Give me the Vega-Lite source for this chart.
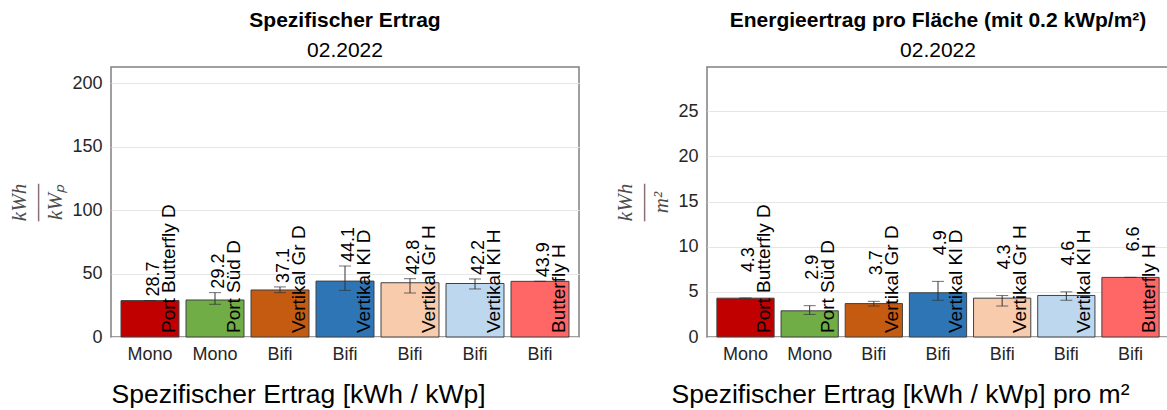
{
  "$schema": "https://vega.github.io/schema/vega-lite/v6.json",
  "background": "white",
  "padding": {"left": 8, "top": 9, "right": 0, "bottom": 0},
  "spacing": 34,
  "datasets": {
    "left": [
      {"key": "Mono|Port Butterfly D", "name": "Port Butterfly D", "value": 28.7, "lo": 28.7, "hi": 28.7},
      {"key": "Mono|Port Süd D", "name": "Port Süd D", "value": 29.2, "lo": 25.8, "hi": 35.0},
      {"key": "Bifi|Vertikal Gr D", "name": "Vertikal Gr D", "value": 37.1, "lo": 35.0, "hi": 39.5},
      {"key": "Bifi|Vertikal Kl D", "name": "Vertikal Kl D", "value": 44.1, "lo": 36.8, "hi": 56.0},
      {"key": "Bifi|Vertikal Gr H", "name": "Vertikal Gr H", "value": 42.8, "lo": 34.7, "hi": 46.0},
      {"key": "Bifi|Vertikal Kl H", "name": "Vertikal Kl H", "value": 42.2, "lo": 37.9, "hi": 45.8},
      {"key": "Bifi|Butterfly H", "name": "Butterfly H", "value": 43.9, "lo": 43.9, "hi": 43.9}
    ],
    "right": [
      {"key": "Mono|Port Butterfly D", "name": "Port Butterfly D", "value": 4.3, "lo": 4.3, "hi": 4.3},
      {"key": "Mono|Port Süd D", "name": "Port Süd D", "value": 2.9, "lo": 2.5, "hi": 3.47},
      {"key": "Bifi|Vertikal Gr D", "name": "Vertikal Gr D", "value": 3.7, "lo": 3.43, "hi": 3.95},
      {"key": "Bifi|Vertikal Kl D", "name": "Vertikal Kl D", "value": 4.9, "lo": 4.07, "hi": 6.16},
      {"key": "Bifi|Vertikal Gr H", "name": "Vertikal Gr H", "value": 4.3, "lo": 3.43, "hi": 4.59},
      {"key": "Bifi|Vertikal Kl H", "name": "Vertikal Kl H", "value": 4.6, "lo": 4.07, "hi": 5.0},
      {"key": "Bifi|Butterfly H", "name": "Butterfly H", "value": 6.6, "lo": 6.6, "hi": 6.6}
    ]
  },
  "config": {
    "font": "Liberation Sans",
    "view": {"stroke": "#808080", "strokeWidth": 1.5},
    "axis": {"domain": false, "ticks": false, "labelFont": "Liberation Sans", "labelFontSize": 18, "labelColor": "#262626"},
    "axisY": {"grid": true, "gridColor": "#e6e6e6", "gridWidth": 1.2, "labelPadding": 9, "titleFont": "Liberation Serif", "titleFontStyle": "italic", "titleFontWeight": "normal", "titleFontSize": 21, "titleLineHeight": 18, "titleColor": "#4d4d4d", "titlePadding": 6},
    "axisX": {"grid": false, "labelAngle": 0, "labelPadding": 8, "titleFont": "Liberation Sans", "titleFontSize": 26.5, "titleFontWeight": "normal", "titlePadding": 18, "titleColor": "#000", "titleAlign": "center"},
    "title": {"font": "Liberation Sans", "fontSize": 21, "fontWeight": "bold", "color": "#000", "subtitleFont": "Liberation Sans", "subtitleFontSize": 21, "subtitleColor": "#000", "anchor": "middle", "frame": "group", "offset": 6, "subtitlePadding": 9},
    "text": {"font": "Liberation Sans", "fontSize": 18, "color": "#000"}
  },
  "hconcat": [
    {
      "width": 468,
      "height": 270,
      "data": {"name": "left"},
      "title": {"text": "Spezifischer Ertrag", "subtitle": "02.2022"},
      "encoding": {
        "x": {"field": "key", "type": "nominal", "sort": null, "scale": {"paddingInner": 0.108, "paddingOuter": 0.154},
          "axis": {"labelExpr": "split(datum.value, '|')[0]", "title": "Spezifischer Ertrag [kWh / kWp]", "titleX": 187}}
      },
      "layer": [
        {
          "mark": {"type": "bar", "stroke": "#404040", "strokeWidth": 1},
          "encoding": {
            "y": {"field": "value", "type": "quantitative", "scale": {"domain": [0, 213], "nice": false},
              "axis": {"values": [0, 50, 100, 150, 200], "title": ["kWh", "——", "kWₚ"]}},
            "color": {"field": "name", "type": "nominal", "legend": null,
              "scale": {"domain": ["Port Butterfly D", "Port Süd D", "Vertikal Gr D", "Vertikal Kl D", "Vertikal Gr H", "Vertikal Kl H", "Butterfly H"],
                "range": ["#c00000", "#70ad47", "#c55a11", "#2e75b6", "#f8cbad", "#bdd7ee", "#ff6666"]}}
          }
        },
        {
          "mark": {"type": "errorbar", "color": "#333333", "ticks": {"size": 12, "color": "#333333"}},
          "encoding": {"y": {"field": "lo", "type": "quantitative", "axis": {"values": [0, 50, 100, 150, 200], "title": ["kWh", "——", "kWₚ"]}}, "y2": {"field": "hi"}}
        },
        {
          "mark": {"type": "text", "angle": -90, "align": "left", "baseline": "middle", "dx": 4, "dy": 4},
          "encoding": {"y": {"field": "hi", "type": "quantitative", "axis": {"values": [0, 50, 100, 150, 200], "title": ["kWh", "——", "kWₚ"]}}, "text": {"field": "value", "format": ".1f"}}
        },
        {
          "mark": {"type": "text", "angle": -90, "align": "left", "baseline": "middle", "dx": 4, "dy": 19, "fontSize": 19},
          "encoding": {"y": {"datum": 0, "axis": {"values": [0, 50, 100, 150, 200], "title": ["kWh", "——", "kWₚ"]}}, "text": {"field": "name"}}
        }
      ]
    },
    {
      "width": 462,
      "height": 270,
      "data": {"name": "right"},
      "title": {"text": "Energieertrag pro Fläche (mit 0.2 kWp/m²)", "subtitle": "02.2022"},
      "encoding": {
        "x": {"field": "key", "type": "nominal", "sort": null, "scale": {"paddingInner": 0.108, "paddingOuter": 0.154},
          "axis": {"labelExpr": "split(datum.value, '|')[0]", "title": "Spezifischer Ertrag [kWh / kWp] pro m²", "titleX": 193}}
      },
      "layer": [
        {
          "mark": {"type": "bar", "stroke": "#404040", "strokeWidth": 1},
          "encoding": {
            "y": {"field": "value", "type": "quantitative", "scale": {"domain": [0, 29.9], "nice": false},
              "axis": {"values": [0, 5, 10, 15, 20, 25], "title": ["kWh", "——", "m²"]}},
            "color": {"field": "name", "type": "nominal", "legend": null,
              "scale": {"domain": ["Port Butterfly D", "Port Süd D", "Vertikal Gr D", "Vertikal Kl D", "Vertikal Gr H", "Vertikal Kl H", "Butterfly H"],
                "range": ["#c00000", "#70ad47", "#c55a11", "#2e75b6", "#f8cbad", "#bdd7ee", "#ff6666"]}}
          }
        },
        {
          "mark": {"type": "errorbar", "color": "#333333", "ticks": {"size": 12, "color": "#333333"}},
          "encoding": {"y": {"field": "lo", "type": "quantitative", "axis": {"values": [0, 5, 10, 15, 20, 25], "title": ["kWh", "——", "m²"]}}, "y2": {"field": "hi"}}
        },
        {
          "mark": {"type": "text", "angle": -90, "align": "left", "baseline": "middle", "dx": 26, "dy": 3},
          "encoding": {"y": {"field": "hi", "type": "quantitative", "axis": {"values": [0, 5, 10, 15, 20, 25], "title": ["kWh", "——", "m²"]}}, "text": {"field": "value", "format": ".1f"}}
        },
        {
          "mark": {"type": "text", "angle": -90, "align": "left", "baseline": "middle", "dx": 4, "dy": 18, "fontSize": 19},
          "encoding": {"y": {"datum": 0, "axis": {"values": [0, 5, 10, 15, 20, 25], "title": ["kWh", "——", "m²"]}}, "text": {"field": "name"}}
        }
      ]
    }
  ]
}
